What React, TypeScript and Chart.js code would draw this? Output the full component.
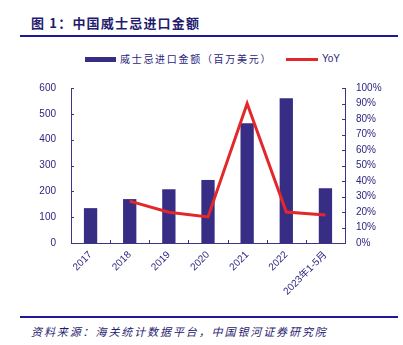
import React, { useEffect, useRef } from "react";
import { Chart, registerables } from "chart.js";

Chart.register(...registerables);

const categories = ["2017", "2018", "2019", "2020", "2021", "2022", "2023年1-5月"];
const importValues = [135, 170, 208, 244, 464, 560, 212];
const yoyValues = [null, 27, 19.8, 16.8, 90, 20, 18];
const leftTicks = [0, 100, 200, 300, 400, 500, 600];

const NAVY = "#2b2580";
const BAR = "#382d84";
const RED = "#e3282b";
const AXIS = "#3b3586";

const innerTicks = {
  id: "innerTicks",
  afterDraw(chart: any) {
    const ctx = chart.ctx;
    const x = chart.scales.x;
    const y = chart.scales.y;
    const y2 = chart.scales.y2;
    ctx.save();
    ctx.strokeStyle = AXIS;
    ctx.lineWidth = 1;
    ctx.beginPath();
    y.ticks.forEach((t: any) => {
      const py = Math.round(y.getPixelForValue(t.value)) + 0.5;
      ctx.moveTo(x.left, py);
      ctx.lineTo(x.left + 3, py);
    });
    y2.ticks.forEach((t: any) => {
      const py = Math.round(y2.getPixelForValue(t.value)) + 0.5;
      ctx.moveTo(x.right - 3, py);
      ctx.lineTo(x.right, py);
    });
    const half = (x.getPixelForValue(1) - x.getPixelForValue(0)) / 2;
    for (let i = 0; i <= categories.length; i++) {
      const px = Math.round(x.getPixelForValue(i) - half) + 0.5;
      ctx.moveTo(px, y.bottom);
      ctx.lineTo(px, y.bottom - 3);
    }
    ctx.stroke();
    ctx.restore();
  },
};

export default function App() {
  const ref = useRef<HTMLCanvasElement>(null);
  useEffect(() => {
    if (!ref.current) return;
    const tickFont = { family: "'Liberation Sans', Arial, 'Noto Sans CJK SC', sans-serif", size: 10 };
    const chart = new Chart(ref.current, {
      type: "bar",
      data: {
        labels: categories,
        datasets: [
          {
            type: "line",
            label: "YoY",
            data: yoyValues,
            yAxisID: "y2",
            borderColor: RED,
            backgroundColor: RED,
            borderWidth: 3,
            pointRadius: 0,
            tension: 0,
            order: 0,
          } as any,
          {
            type: "bar",
            label: "威士忌进口金额（百万美元）",
            data: importValues,
            yAxisID: "y",
            backgroundColor: BAR,
            barPercentage: 0.34,
            categoryPercentage: 1,
            order: 1,
          },
        ],
      },
      options: {
        animation: false,
        responsive: false,
        maintainAspectRatio: false,
        layout: { padding: { top: 14, left: 0, right: 0, bottom: 0 } },
        plugins: { legend: { display: false }, tooltip: { enabled: false } },
        scales: {
          x: {
            grid: { display: false, drawTicks: false },
            border: { display: true, color: AXIS, width: 1 },
            ticks: { color: NAVY, font: tickFont, minRotation: 45, maxRotation: 45, padding: 6, autoSkip: false },
            afterFit: (s: any) => { s.height = 72; },
          },
          y: {
            position: "left",
            min: 0,
            max: 600,
            afterBuildTicks: (s: any) => { s.ticks = leftTicks.map((v) => ({ value: v })); },
            grid: { display: false, drawTicks: false },
            border: { display: true, color: AXIS, width: 1 },
            ticks: { color: NAVY, font: tickFont, padding: 15 },
            afterFit: (s: any) => { s.width = 71; },
          },
          y2: {
            position: "right",
            min: 0,
            max: 100,
            grid: { display: false, drawTicks: false },
            border: { display: true, color: AXIS, width: 1 },
            ticks: { color: NAVY, font: tickFont, stepSize: 10, padding: 11, callback: (v: any) => v + "%" },
            afterFit: (s: any) => { s.width = 58; },
          },
        },
      },
      plugins: [innerTicks],
    });
    return () => chart.destroy();
  }, []);

  const cjk = "'Noto Sans CJK SC', sans-serif";
  return (
    <div style={{ position: "absolute", left: 0, top: 0, width: 403, height: 345, background: "#fff", overflow: "hidden" }}>
      <div style={{ position: "absolute", left: 31, top: 14, fontFamily: cjk, fontWeight: 700, fontSize: 13, letterSpacing: 1.2, color: "#1f1b6e", lineHeight: "18px", whiteSpace: "nowrap" }}>
        图 1：中国威士忌进口金额
      </div>
      <div style={{ position: "absolute", left: 20, top: 35, width: 378, height: 2, background: "#1c1a9a" }} />
      <div style={{ position: "absolute", left: 85, top: 57, width: 31, height: 5, background: BAR }} />
      <div style={{ position: "absolute", left: 120, top: 51, fontFamily: cjk, fontSize: 10, letterSpacing: 1.7, color: NAVY, lineHeight: "16px", whiteSpace: "nowrap" }}>
        威士忌进口金额（百万美元）
      </div>
      <div style={{ position: "absolute", left: 286, top: 58, width: 32, height: 3, background: RED }} />
      <div style={{ position: "absolute", left: 322, top: 51, fontFamily: "'Liberation Sans', Arial, sans-serif", fontSize: 10, color: NAVY, lineHeight: "16px" }}>
        YoY
      </div>
      <canvas ref={ref} width={403} height={248} style={{ position: "absolute", left: 0, top: 67, width: 403, height: 248 }} />
      <div style={{ position: "absolute", left: 20, top: 316, width: 378, height: 2, background: "#1c1a9a" }} />
      <div style={{ position: "absolute", left: 31, top: 323, fontFamily: cjk, fontStyle: "italic", fontSize: 11, letterSpacing: 1.9, color: "#1f1b6e", lineHeight: "16px", whiteSpace: "nowrap" }}>
        资料来源：海关统计数据平台，中国银河证券研究院
      </div>
    </div>
  );
}
